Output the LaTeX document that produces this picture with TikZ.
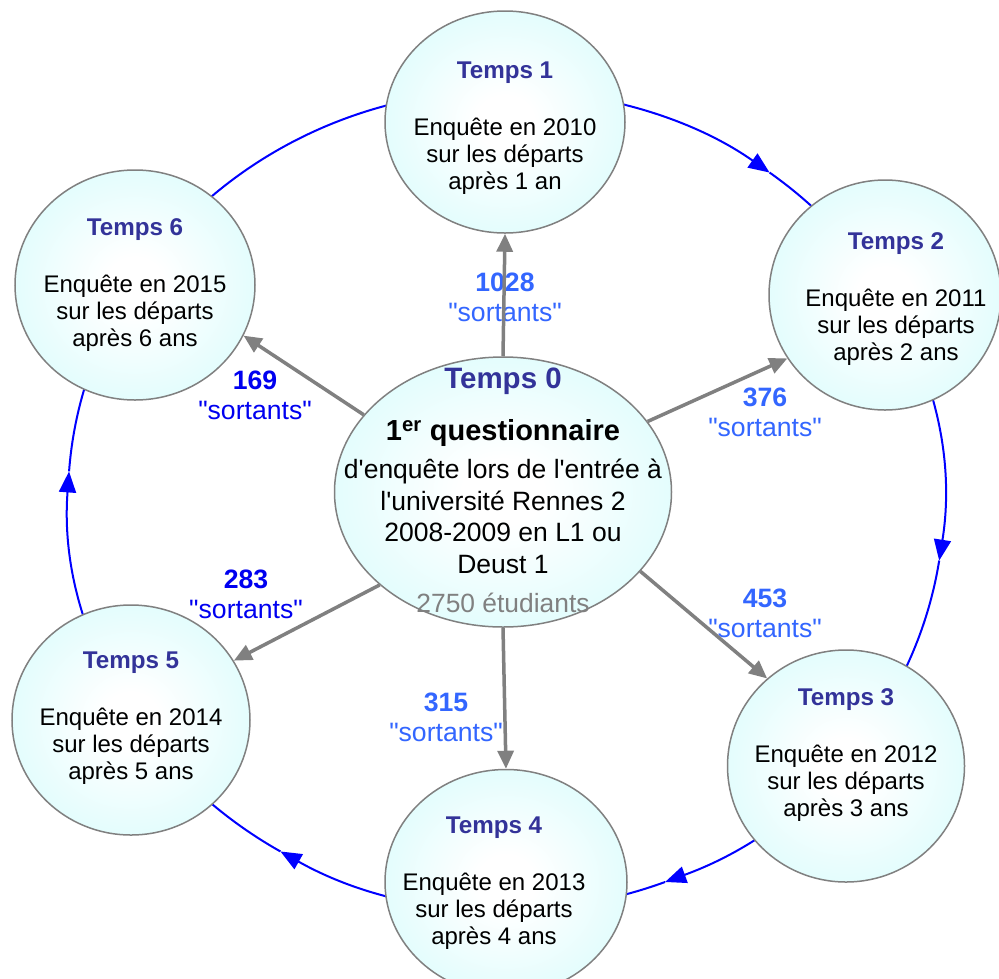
\documentclass[tikz,border=0pt]{standalone}
\usepackage{fontspec}
\setmainfont{Liberation Sans}[Ligatures=TeXOff]
\usetikzlibrary{shapes.geometric,arrows.meta,calc}
\definecolor{tcol}{RGB}{51,51,153}
\definecolor{lbl}{RGB}{51,102,255}
\definecolor{dbl}{RGB}{0,0,240}
\definecolor{gry}{RGB}{128,128,128}
\definecolor{cyn}{RGB}{192,250,250}
\definecolor{ringc}{RGB}{0,0,255}
\pgfdeclareradialshading{bubshade}{\pgfpoint{0bp}{0bp}}{color(0bp)=(white); color(6bp)=(white); color(50bp)=(cyn)}
\newcommand\tempsttl[1]{{\fontsize{24.2}{27}\selectfont\bfseries\color{tcol}#1}}
\begin{document}
\begin{tikzpicture}[x=1pt,y=-1pt,
  bub/.style={ellipse,draw=gry,line width=1.5pt,inner sep=0pt,shade,shading=bubshade},
  btxt/.style={align=center,inner sep=0pt,font=\fontsize{24}{27}\selectfont},
  labtxt/.style={align=center,inner sep=0pt,font=\fontsize{26.6}{30}\selectfont},
  garrow/.style={draw=gry,line width=3.5pt,-{Triangle[length=18pt,width=16pt]}},
  ring/.style={draw=ringc,line width=2pt},
  ringtip/.style={-{Triangle[length=21pt,width=17pt]}}]
\useasboundingbox (0,0) rectangle (999,978);
\fill[white] (0,0) rectangle (999,978);
% ring
\coordinate (rc) at (506,500);
\foreach \s/\e in {90/53, 53/-8.5, -8.5/-68.7, -68.7/-121, -121/-184}
  \draw[ring,ringtip] ($(rc)+(\s:438pt and 410pt)$) arc[start angle=\s,end angle=\e,x radius=438pt,y radius=410pt];
\draw[ring] ($(rc)+(-184:438pt and 410pt)$) arc[start angle=-184,end angle=-270,x radius=438pt,y radius=410pt];
% bubbles
\node[bub,minimum width=240pt,minimum height=222pt] (t1) at (505,122) {};
\node[bub,minimum width=232pt,minimum height=230pt] (t2) at (885,295) {};
\node[bub,minimum width=237pt,minimum height=232pt] (t3) at (846,766) {};
\node[bub,minimum width=242pt,minimum height=225pt] (t4) at (506,882) {};
\node[bub,minimum width=238pt,minimum height=230pt] (t5) at (131,720) {};
\node[bub,minimum width=240pt,minimum height=230pt] (t6) at (135,285) {};
\node[bub,minimum width=337pt,minimum height=270pt] (t0) at (503,492) {};
% bubble texts
\node[btxt] (t1x) at (505,128.5) {\tempsttl{Temps 1}\\[30pt]Enquête en 2010\\sur les départs\\après 1 an};
\node[btxt] (t2x) at (896,299) {\tempsttl{Temps 2}\\[30pt]Enquête en 2011\\sur les départs\\après 2 ans};
\node[btxt] (t3x) at (846,755) {\tempsttl{Temps 3}\\[30pt]Enquête en 2012\\sur les départs\\après 3 ans};
\node[btxt] (t4x) at (494,883) {\tempsttl{Temps 4}\\[30pt]Enquête en 2013\\sur les départs\\après 4 ans};
\node[btxt] (t5x) at (131,718) {\tempsttl{Temps 5}\\[30pt]Enquête en 2014\\sur les départs\\après 5 ans};
\node[btxt] (t6x) at (135,285.5) {\tempsttl{Temps 6}\\[30pt]Enquête en 2015\\sur les départs\\après 6 ans};
% centre texts
\node[inner sep=0pt,font=\fontsize{29.5}{33}\selectfont\bfseries,text=tcol] (t0a) at (503,381) {Temps 0};
\node[inner sep=0pt,font=\fontsize{29}{33}\selectfont\bfseries] (t0b) at (503,433) {1\textsuperscript{er} questionnaire};
\node[align=center,inner sep=0pt,font=\fontsize{26.5}{31.5}\selectfont] (t0c) at (503,516.5) {d'enquête lors de l'entrée à\\l'université Rennes 2\\2008-2009 en L1 ou\\Deust 1};
\node[inner sep=0pt,font=\fontsize{26.4}{30}\selectfont,text=gry] (t0d) at (503,603) {2750 étudiants};
% labels
\node[labtxt,text=lbl] (l1) at (505,297) {\textbf{1028}\\"sortants"};
\node[labtxt,text=dbl] (l6) at (255,395) {\textbf{169}\\"sortants"};
\node[labtxt,text=lbl] (l2) at (765,412.5) {\textbf{376}\\"sortants"};
\node[labtxt,text=dbl] (l5) at (246,594.5) {\textbf{283}\\"sortants"};
\node[labtxt,text=lbl] (l3) at (765,613) {\textbf{453}\\"sortants"};
\node[labtxt,text=lbl] (l4) at (446,717.5) {\textbf{315}\\"sortants"};
% grey arrows
\draw[garrow] (t0.90) -- (t1.270);
\draw[garrow] (t0.26) -- (t2.213);
\draw[garrow] (t0.-30) -- (t3.132);
\draw[garrow] (t0.-90) -- (t4.90);
\draw[garrow] (t0.217) -- (t5.30);
\draw[garrow] (t0.151) -- (t6.-25);
\end{tikzpicture}
\end{document}
